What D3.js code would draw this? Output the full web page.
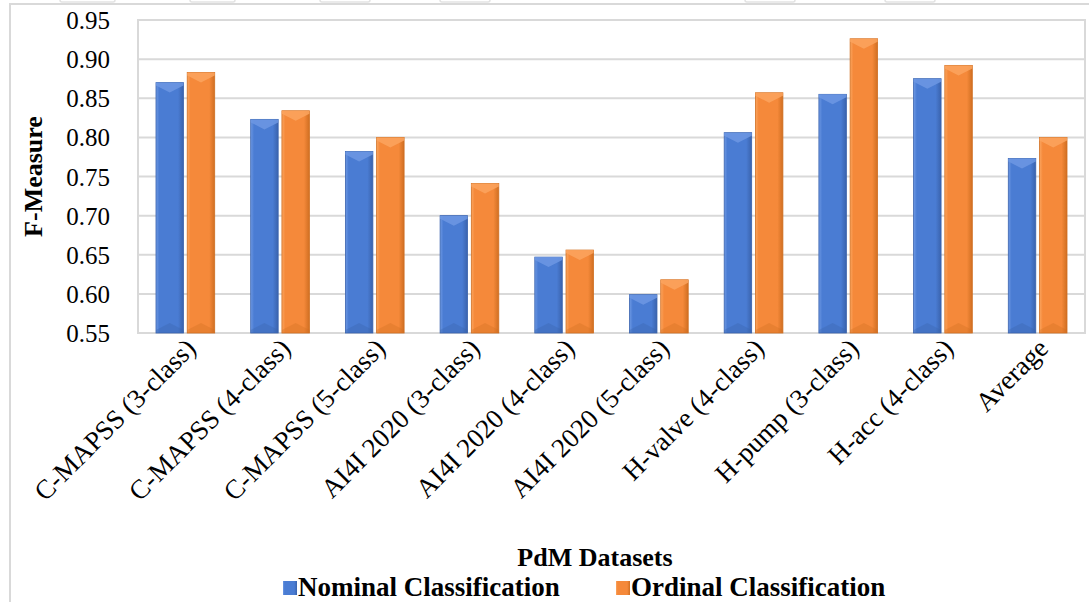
<!DOCTYPE html>
<html lang="en">
    <head>
        <meta charset="UTF-8">
        <title>F-Measure by PdM Dataset</title>
        <script src="https://d3js.org/d3.v7.min.js"></script>
        <style>
            html, body {
                margin: 0;
                background-color: white;
            }
            svg {
                display: block;
            }
            svg text {
                font-family: "Liberation Serif", "Times New Roman", serif !important;
            }
        </style>
    </head>
    <body>
        <div id="container"></div>
        <script>

            const categories = [
                "C-MAPSS (3-class)", "C-MAPSS (4-class)", "C-MAPSS (5-class)",
                "AI4I 2020 (3-class)", "AI4I 2020 (4-class)", "AI4I 2020 (5-class)",
                "H-valve (4-class)", "H-pump (3-class)", "H-acc (4-class)", "Average"
            ];
            const seriesNames = ["Nominal Classification", "Ordinal Classification"];
            const nominalValues = [0.870, 0.823, 0.782, 0.700, 0.647, 0.599, 0.806, 0.855, 0.875, 0.773];
            const ordinalValues = [0.883, 0.834, 0.800, 0.741, 0.656, 0.618, 0.857, 0.926, 0.892, 0.800];
            const yTicks = [0.55, 0.60, 0.65, 0.70, 0.75, 0.80, 0.85, 0.90, 0.95];

            const width = 1089;
            const height = 602;
            const plot = { left: 138, right: 1085, top: 20, bottom: 333 };

            const colors = {
                "Nominal Classification": { main: "#4a7cd3", light: "#6d98e3", dark: "#3a63ad" },
                "Ordinal Classification": { main: "#f5893a", light: "#fba55f", dark: "#d06f22" }
            };

            const svg = d3.select("#container")
                .append("svg")
                .attr("width", width)
                .attr("height", height);

            // gradients for the bevelled look
            const defs = svg.append("defs");
            seriesNames.forEach((s, i) => {
                const g = defs.append("linearGradient")
                    .attr("id", "grad" + i)
                    .attr("x1", "0%").attr("x2", "100%");
                g.append("stop").attr("offset", "0%").attr("stop-color", colors[s].light);
                g.append("stop").attr("offset", "12%").attr("stop-color", colors[s].main);
                g.append("stop").attr("offset", "80%").attr("stop-color", colors[s].main);
                g.append("stop").attr("offset", "100%").attr("stop-color", colors[s].dark);
            });

            // bits of the neighbouring frame peeking in at the top
            svg.append("g")
                .selectAll("rect")
                .data([[60, 115], [190, 235], [320, 370], [440, 490], [745, 795], [885, 935]])
                .enter().append("rect")
                .attr("x", d => d[0])
                .attr("y", -4)
                .attr("width", d => d[1] - d[0])
                .attr("height", 6)
                .attr("rx", 2)
                .attr("fill", "none")
                .attr("stroke", "#e3e3e3")
                .attr("stroke-width", 1.5);

            // outer frame
            svg.append("path")
                .attr("d", `M10,${height} V4 H${width}`)
                .attr("fill", "none")
                .attr("stroke", "#d9d9d9")
                .attr("stroke-width", 2);

            const x0 = d3.scaleBand()
                .domain(categories)
                .range([plot.left, plot.right])
                .paddingInner(0.38)
                .paddingOuter(0.19);

            const x1 = d3.scaleBand()
                .domain(seriesNames)
                .range([0, x0.bandwidth()])
                .paddingInner(0.12);

            const y = d3.scaleLinear()
                .domain([0.55, 0.95])
                .range([plot.bottom, plot.top]);

            // gridlines
            svg.append("g")
                .selectAll("line")
                .data(yTicks)
                .enter().append("line")
                .attr("x1", plot.left)
                .attr("x2", plot.right)
                .attr("y1", d => y(d))
                .attr("y2", d => y(d))
                .attr("stroke", "#d9d9d9")
                .attr("stroke-width", 2);

            svg.append("rect")
                .attr("x", plot.left)
                .attr("y", plot.top)
                .attr("width", plot.right - plot.left)
                .attr("height", plot.bottom - plot.top)
                .attr("fill", "none")
                .attr("stroke", "#d9d9d9")
                .attr("stroke-width", 2);

            // y axis labels
            const yAxis = svg.append("g")
                .attr("transform", `translate(${plot.left - 28},0)`)
                .call(d3.axisLeft(y).tickValues(yTicks).tickFormat(d3.format(".2f")).tickSize(0).tickPadding(0));
            yAxis.select(".domain").remove();
            yAxis.attr("font-family", null).attr("font-size", null);
            yAxis.selectAll("text")
                .style("font-size", "25px")
                .attr("fill", "#000")
                .attr("dy", "0.34em");

            // bars
            const rows = categories.map((c, i) => ({
                category: c,
                values: [
                    { series: seriesNames[0], idx: 0, value: nominalValues[i] },
                    { series: seriesNames[1], idx: 1, value: ordinalValues[i] }
                ]
            }));

            const groups = svg.append("g")
                .selectAll("g")
                .data(rows)
                .enter().append("g")
                .attr("transform", d => `translate(${x0(d.category)},0)`);

            const bars = groups.selectAll("g")
                .data(d => d.values)
                .enter().append("g");

            bars.append("rect")
                .attr("x", d => x1(d.series))
                .attr("y", d => y(d.value))
                .attr("width", x1.bandwidth())
                .attr("height", d => plot.bottom - y(d.value))
                .attr("fill", d => `url(#grad${d.idx})`)
                .attr("stroke", d => colors[d.series].dark)
                .attr("stroke-width", 0.8);

            // top bevel
            bars.append("path")
                .attr("d", d => {
                    const xa = x1(d.series), xb = xa + x1.bandwidth(), xm = (xa + xb) / 2, t = y(d.value);
                    return `M${xa},${t} H${xb} L${xb},${t + 3} L${xm},${t + 10} L${xa},${t + 3} Z`;
                })
                .attr("fill", d => colors[d.series].light)
                .attr("opacity", 0.85);

            // bottom bevel
            bars.append("path")
                .attr("d", d => {
                    const xa = x1(d.series), xb = xa + x1.bandwidth(), xm = (xa + xb) / 2, b = plot.bottom;
                    return `M${xa},${b} V${b - 3} L${xm},${b - 10} L${xb},${b - 3} V${b} Z`;
                })
                .attr("fill", d => colors[d.series].dark)
                .attr("opacity", 0.35);

            // category labels
            svg.append("g")
                .selectAll("text")
                .data(categories)
                .enter().append("text")
                .attr("transform", d => `translate(${x0(d) + x0.bandwidth() / 2 + 12},${plot.bottom + 17}) rotate(-45)`)
                .attr("text-anchor", "end")
                .style("font-size", "27px")
                .attr("fill", "#000")
                .text(d => d);

            // axis titles
            svg.append("text")
                .attr("transform", `translate(42,${(plot.top + plot.bottom) / 2}) rotate(-90)`)
                .attr("text-anchor", "middle")
                .style("font-size", "26px")
                .attr("font-weight", "bold")
                .text("F-Measure");

            svg.append("text")
                .attr("x", 595)
                .attr("y", 566)
                .attr("text-anchor", "middle")
                .style("font-size", "26px")
                .attr("font-weight", "bold")
                .text("PdM Datasets");

            // legend
            const legendX = [283, 616];
            const legend = svg.append("g")
                .selectAll("g")
                .data(seriesNames)
                .enter().append("g")
                .attr("transform", (d, i) => `translate(${legendX[i]},596)`);

            legend.append("rect")
                .attr("x", 0)
                .attr("y", -15)
                .attr("width", 14)
                .attr("height", 14)
                .attr("fill", (d, i) => `url(#grad${i})`);

            legend.append("text")
                .attr("x", 15)
                .style("font-size", "27px")
                .attr("font-weight", "bold")
                .text(d => d);

        </script>
    </body>
</html>
